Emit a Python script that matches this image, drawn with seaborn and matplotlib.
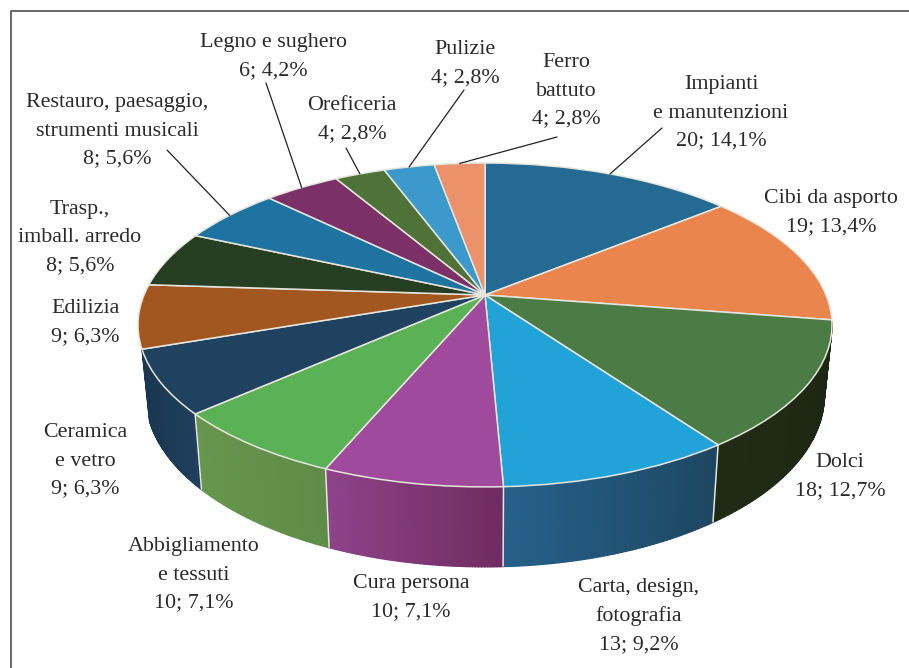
import numpy as np
import matplotlib
matplotlib.use("Agg")
import matplotlib.pyplot as plt
from matplotlib.collections import PolyCollection
from matplotlib.colors import to_rgb
from matplotlib.transforms import Transform
import seaborn as sns

# ---- data ----
categories = ["Impianti\ne manutenzioni", "Cibi da asporto", "Dolci", "Carta, design,\nfotografia",
              "Cura persona", "Abbigliamento\ne tessuti", "Ceramica\ne vetro", "Edilizia",
              "Trasp.,\nimball. arredo", "Restauro, paesaggio,\nstrumenti musicali", "Legno e sughero",
              "Oreficeria", "Pulizie", "Ferro\nbattuto"]
values = [20, 19, 18, 13, 10, 10, 9, 9, 8, 8, 6, 4, 4, 4]
percent_labels = ["14,1%", "13,4%", "12,7%", "9,2%", "7,1%", "7,1%", "6,3%", "6,3%",
                  "5,6%", "5,6%", "4,2%", "2,8%", "2,8%", "2,8%"]
top_colors = ["#246a92", "#ea854e", "#4b7c45", "#22a3d8", "#a04a9d", "#5bb155", "#1f4260",
              "#a25720", "#263f22", "#1f73a0", "#7b3068", "#4f7238", "#3b99cb", "#ec926a"]
# wall colours at the clockwise start and end of each visible side wall
wall_start = {2: "#1c2612", 3: "#1d4660", 4: "#702c62", 5: "#5f8c48", 6: "#1f3f5c"}
wall_end = {2: "#202a14", 3: "#26608a", 4: "#8d4389", 5: "#67964e", 6: "#1a3650"}
label_xy = [(721, 113), (831, 213), (840, 477), (639, 616), (411, 598), (194, 575), (85, 461),
            (85, 323), (80, 238), (117, 131), (273, 57), (352, 120), (465, 64), (566, 91)]
leader_from = {0: (662, 128), 9: (167, 150), 10: (266, 83), 11: (346, 148), 12: (464, 90), 13: (557, 137)}

# ---- geometry of the tilted disc ----
CX, CY, RX, RY, K = 485.0, 295.0, 341.0, 156.4, 0.185
BOTTOM_SCALE, DEPTH = 0.978, 68.6


def project(u, v, bottom=False):
    d = 1 + K * v
    s = BOTTOM_SCALE if bottom else 1.0
    return CX + s * RX * u / d, CY - s * RY * v / d + (DEPTH / d if bottom else 0.0)


class Tilt(Transform):
    input_dims = output_dims = 2
    is_separable = False
    has_inverse = False

    def transform_non_affine(self, values):
        values = np.asarray(values, dtype=float)
        x, y = project(values[:, 0], values[:, 1])
        return np.column_stack([x, y])


sns.set_theme(style="white", rc={"axes.facecolor": "white", "figure.facecolor": "white"})
plt.rcParams["font.family"] = ["Liberation Serif", "DejaVu Serif"]

fig = plt.figure(figsize=(9.09, 6.68), dpi=100)
ax = fig.add_axes([0, 0, 1, 1])
palette = sns.color_palette(top_colors)

wedges, _ = ax.pie(values, colors=palette, startangle=90, counterclock=False, radius=1.0,
                   wedgeprops=dict(edgecolor="#e6e6de", linewidth=1.1, zorder=3))
tilt = Tilt() + ax.transData
for w in wedges:
    w.set_transform(tilt)
    w.set_clip_on(False)

ax.set_aspect("auto")
ax.set_xlim(0, 909)
ax.set_ylim(668, 0)
ax.axis("off")

fractions = np.cumsum([0] + values) / np.sum(values)
angles = fractions * 2 * np.pi  # clockwise from 12 o'clock

# side wall of every slice facing the viewer
for i in wall_start:
    t = np.linspace(angles[i], angles[i + 1], 60)
    u, v = np.sin(t), np.cos(t)
    keep = v < -K * 0.9
    u, v = u[keep], v[keep]
    xt, yt = project(u, v)
    xb, yb = project(u, v, bottom=True)
    polys = [[(xt[j], yt[j]), (xt[j + 1], yt[j + 1]), (xb[j + 1], yb[j + 1]), (xb[j], yb[j])]
             for j in range(len(u) - 1)]
    mix = np.linspace(0, 1, len(polys))[:, None]
    cols = np.array(to_rgb(wall_start[i])) * (1 - mix) + np.array(to_rgb(wall_end[i])) * mix
    ax.add_collection(PolyCollection(polys, facecolors=cols, edgecolors=cols, linewidths=0.9, zorder=1))

# light seams between wall segments
for a in angles[3:7]:
    u, v = np.sin(a), np.cos(a)
    xt, yt = project(u, v)
    xb, yb = project(u, v, bottom=True)
    ax.plot([xt, xb], [yt, yb], color="#e6e6de", lw=1.1, zorder=2, solid_capstyle="butt")

# labels and leader lines
for i, (name, val, pct, (lx, ly)) in enumerate(zip(categories, values, percent_labels, label_xy)):
    ax.text(lx, ly, f"{name}\n{val}; {pct}", ha="center", va="center", fontsize=15.8,
            color="#2a2a2a", linespacing=1.65, zorder=5)
    if i in leader_from:
        mid = (angles[i] + angles[i + 1]) / 2
        ex, ey = project(np.sin(mid), np.cos(mid))
        sx, sy = leader_from[i]
        ax.plot([sx, ex], [sy, ey], color="#222222", lw=0.9, zorder=4)

# frame: only the top and left rules fall inside the picture
ax.plot([10.5, 10.5, 909], [668, 10.5, 10.5], color="#5a5a5a", lw=1.3, zorder=6, clip_on=False)

fig.savefig("out.png", dpi=100)
